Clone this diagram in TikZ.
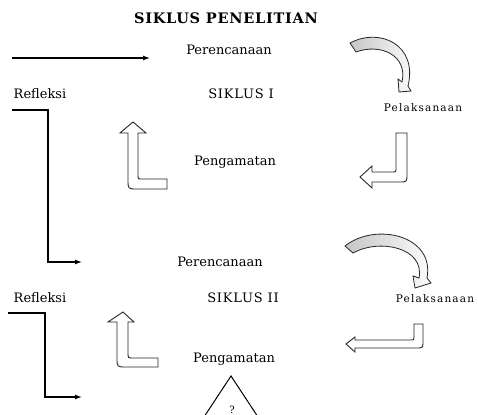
\documentclass[tikz,border=0pt]{standalone}
\usepackage{fontspec}
\setmainfont{DejaVu Serif}
\usepackage{tikz}
\usetikzlibrary{arrows.meta,positioning,calc}

\begin{document}
\begin{tikzpicture}[x=1pt,y=-1pt,
  lab/.style={font=\fontsize{13}{15}\selectfont,inner sep=0pt,anchor=base},
  sik/.style={lab,font=\fontsize{13}{15}\selectfont\addfontfeatures{LetterSpace=6}},
  pel/.style={font=\fontsize{10.5}{12}\selectfont\addfontfeatures{LetterSpace=11},inner sep=0pt,anchor=base},
  flow/.style={line width=1.3pt,-{Latex[length=7pt,width=5pt]}},
  blk/.style={draw=black!85,line width=0.9pt,fill=white},
  curvearrow/.style={draw=black!85,line width=0.8pt,left color=gray!45,right color=white}]
\useasboundingbox (0,0) rectangle (478,414);
\node[lab,font=\fontsize{14.5}{16}\selectfont\bfseries\addfontfeatures{LetterSpace=5}] (title) at (226,24) {SIKLUS PENELITIAN};
% siklus I
\node[lab] (per1) at (229,55) {Perencanaan};
\node[lab] (ref1) at (40,99) {Refleksi};
\node[sik] (sik1) at (241,99) {SIKLUS I};
\node[pel] (pel1) at (423,112) {Pelaksanaan};
\node[lab] (pen1) at (235,165) {Pengamatan};
\coordinate (in1) at (12,58);
\coordinate (in1e) at (150,58);
\draw[flow] (in1) -- (in1e);
\coordinate (r1s) at (12,110);
\coordinate (r1m) at (48,180);
\coordinate (r1e) at (82,262);
\draw[flow] (r1s) -| (r1m) |- (r1e);
\draw[curvearrow] (350,43) .. controls (380,27) and (418,45) .. (408,86) -- (411,91) -- (399,92)
  -- (398,79) -- (402,82) .. controls (408,55) and (380,43) .. (356,52) -- cycle;
\draw[blk] (396,133) -- (407,133) -- (407,174) .. controls (407,182) .. (399,182) -- (372,182)
  -- (372,188) -- (360,177) -- (372,166) -- (372,172) -- (392,172) .. controls (396,172) .. (396,168) -- cycle;
\draw[blk] (133,122) -- (146,133) -- (138,133) -- (138,175) .. controls (138,179) .. (142,179) -- (167,179)
  -- (167,189) -- (137,189) .. controls (128,189) .. (128,180) -- (128,133) -- (120,133) -- cycle;
% siklus II
\node[lab] (per2) at (220,266) {Perencanaan};
\node[lab] (ref2) at (40,302) {Refleksi};
\node[sik] (sik2) at (243,302) {SIKLUS II};
\node[pel] (pel2) at (435,302) {Pelaksanaan};
\node[lab] (pen2) at (234,362) {Pengamatan};
\coordinate (r2s) at (8,313);
\coordinate (r2m) at (45,350);
\coordinate (r2e) at (82,397);
\draw[flow] (r2s) -| (r2m) |- (r2e);
\draw[curvearrow] (345,246) .. controls (375,222) and (435,235) .. (427,278) -- (431,283) -- (415,288)
  -- (413,276) -- (419,278) .. controls (425,248) and (380,238) .. (353,253) -- cycle;
\draw[blk] (414,324) -- (423,324) -- (423,341) .. controls (423,348) .. (416,348) -- (355,348)
  -- (355,352) -- (346,344) -- (355,337) -- (355,340) -- (411,340) .. controls (414,340) .. (414,337) -- cycle;
\draw[blk] (123,312) -- (134,322) -- (128,322) -- (128,353) .. controls (128,358) .. (133,358) -- (158,358)
  -- (158,367) -- (126,367) .. controls (117,367) .. (117,358) -- (117,322) -- (108,322) -- cycle;
\begin{scope}
\clip (0,0) rectangle (478,414);
\coordinate (tri) at (231,376);
\draw[line width=1pt] (202,420) -- (tri) -- (260,420);
\node[lab,font=\fontsize{10}{11}\selectfont] (q) at (232,413) {?};
\end{scope}
\end{tikzpicture}
\end{document}
